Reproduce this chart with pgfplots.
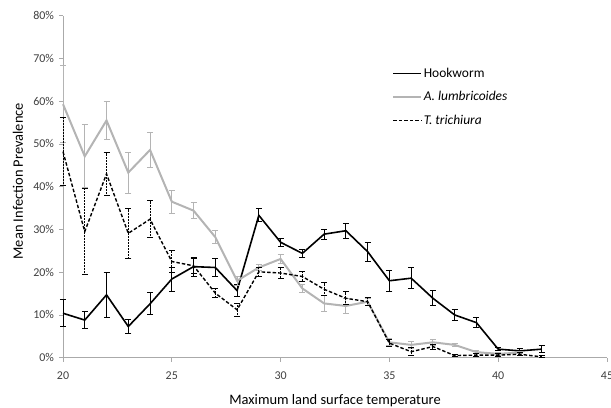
\documentclass[border=0pt]{standalone}
\usepackage{pgfplots}
\pgfplotsset{compat=1.18}
\usepackage{pgfplotstable}
\usepackage{fontspec}
\setmainfont{Carlito}
\definecolor{axgray}{RGB}{170,170,170}
\definecolor{sergray}{RGB}{180,180,180}
\definecolor{txt}{RGB}{64,64,64}

\pgfplotstableread{
x y e
20 10.4 3.2
21 8.8 2.0
22 14.7 5.2
23 7.3 1.7
24 12.6 2.6
25 18.4 2.8
26 21.3 2.2
27 21.1 2.1
28 15.7 1.4
29 33.3 1.5
30 27.0 0.9
31 24.4 0.9
32 28.9 1.2
33 29.7 1.8
34 24.8 2.2
35 18.0 2.4
36 18.6 2.5
37 13.9 1.8
38 10.0 1.2
39 8.2 1.1
40 2.0 0.4
41 1.6 0.6
42 2.0 0.9
}\hook

\pgfplotstableread{
x y e
20 59.3 9.0
21 47.1 7.4
22 55.5 4.5
23 43.3 4.8
24 48.6 4.0
25 36.5 2.7
26 34.4 1.9
27 28.2 1.5
28 18.0 1.0
29 21.1 0.8
30 23.1 1.0
31 16.2 1.0
32 12.7 1.9
33 12.1 1.8
34 13.1 0.8
35 3.6 0.8
36 3.0 0.8
37 3.6 0.7
38 3.0 0.4
39 1.3 0.4
40 0.9 0.3
41 1.2 0.3
}\asca

\pgfplotstableread{
x y e
20 48.2 8.0
21 29.5 10.0
22 43.0 5.0
23 29.1 5.8
24 32.4 4.3
25 22.5 2.6
26 21.5 1.8
27 15.1 1.0
28 11.2 1.5
29 20.1 1.0
30 19.8 1.3
31 19.0 1.2
32 16.0 1.5
33 13.9 1.5
34 13.1 1.0
35 3.4 0.8
36 1.4 1.0
37 2.6 0.6
38 0.5 0.3
39 0.6 0.3
40 0.6 0.3
41 0.8 0.3
42 0.2 0.2
}\trich

\begin{document}
\begin{tikzpicture}
\begin{axis}[
  at={(0,0)}, anchor=south west,
  scale only axis, width=544bp, height=342bp,
  xmin=20, xmax=45, ymin=0, ymax=80,
  xtick={20,25,...,45}, ytick={0,10,...,80},
  yticklabel={\pgfmathprintnumber{\tick}\%},
  /pgf/number format/assume math mode=true,
  axis x line*=bottom, axis y line*=left,
  axis line style={axgray, line width=0.8bp},
  tick style={axgray, line width=0.8bp},
  tick align=outside, major tick length=4bp,
  ticklabel style={font=\fontsize{12}{14}\selectfont, text=txt},
  xticklabel style={yshift=-7bp},
  yticklabel style={xshift=-1.5bp},
  xlabel={Maximum land surface temperature},
  ylabel={Mean Infection Prevalence},
  label style={font=\fontsize{14.5}{16}\selectfont},
  xlabel style={at={([yshift=-43bp]axis description cs:0.5,0)}, anchor=center},
  ylabel style={at={([xshift=-45bp]axis description cs:0,0.516)}, anchor=center},
  legend style={at={(rel axis cs:0.605,0.853)}, anchor=north west, draw=none, fill=none,
    font=\fontsize{13.5}{15}\selectfont, row sep=8.5bp, inner sep=0pt,
    nodes={inner xsep=1.5bp}},
  legend cell align=left,
  legend image code/.code={\draw[#1] (0bp,0bp) -- (28bp,0bp);},
  clip=false,
]
\addplot[black, line width=1.6bp, mark=none,
  error bars/.cd, y dir=both, y explicit,
  error bar style={line width=1bp},
  error mark options={rotate=90, mark size=3bp, line width=1bp}]
  table[x=x, y=y, y error=e] {\hook};
\addlegendentry{Hookworm}
\addplot[sergray, line width=2bp, mark=none,
  error bars/.cd, y dir=both, y explicit,
  error bar style={line width=1bp},
  error mark options={rotate=90, mark size=3bp, line width=1bp}]
  table[x=x, y=y, y error=e] {\asca};
\addlegendentry{\itshape A. lumbricoides}
\addplot[black, line width=1.4bp, dash pattern=on 3.5bp off 2bp, mark=none,
  error bars/.cd, y dir=both, y explicit,
  error bar style={line width=1bp, dash pattern=on 2bp off 1bp},
  error mark options={rotate=90, mark size=3bp, line width=1bp, solid}]
  table[x=x, y=y, y error=e] {\trich};
\addlegendentry{\itshape T. trichiura}
\end{axis}
\pgfresetboundingbox
\path[use as bounding box] (-63bp,-50.3bp) rectangle (548bp,357.7bp);
\end{tikzpicture}
\end{document}
